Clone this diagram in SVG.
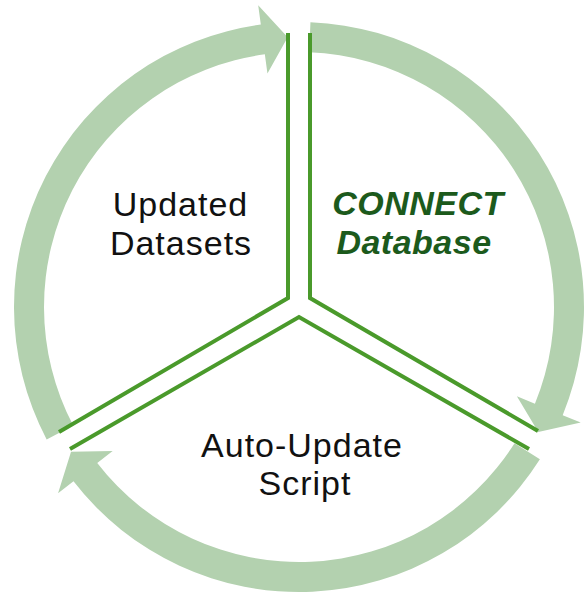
<svg xmlns="http://www.w3.org/2000/svg" xmlns:xlink="http://www.w3.org/1999/xlink" width="585" height="593" viewBox="0 0 585 593">
<style>
.band{fill:#B3D1AF;stroke:none}
.div{fill:none;stroke:#4A9A2B;stroke-width:4;stroke-linejoin:miter}
.lbl{font-family:"Liberation Sans",Arial,sans-serif;font-size:34px;fill:#111111;text-anchor:middle;letter-spacing:1px}
.hl{font-weight:bold;font-style:italic;fill:#1C5A1C;letter-spacing:0.5px}
</style>
<defs>
<path id="arcArrow" class="band" d="M 46.66 439.48 A 285 285 0 0 1 260.81 24.57 L 258.20 5.25 L 287.69 37.24 L 267.45 73.62 L 264.83 54.30 A 255 255 0 0 0 73.23 425.53 Z"/>
</defs>
<g id="connectors">
<use id="arrow-datasets-to-connect" xlink:href="#arcArrow" href="#arcArrow"/>
<use id="arrow-connect-to-script" xlink:href="#arcArrow" href="#arcArrow" transform="rotate(120 299 307)"/>
<use id="arrow-script-to-datasets" xlink:href="#arcArrow" href="#arcArrow" transform="rotate(240 299 307)"/>
<path class="div" d="M288 33 V298 L59 432"/>
<path class="div" d="M310 33 V298 L538 431"/>
<path class="div" d="M70 449 L299 317 L529 449"/>
</g>
<g id="node-datasets">
<text class="lbl" x="180.5" y="216">Updated</text>
<text class="lbl" x="181" y="255">Datasets</text>
</g>
<g id="node-connect">
<text class="lbl hl" x="418" y="215">CONNECT</text>
<text class="lbl hl" x="414" y="254">Database</text>
</g>
<g id="node-script">
<text class="lbl" x="302" y="457">Auto-Update</text>
<text class="lbl" x="305" y="495">Script</text>
</g>
</svg>
